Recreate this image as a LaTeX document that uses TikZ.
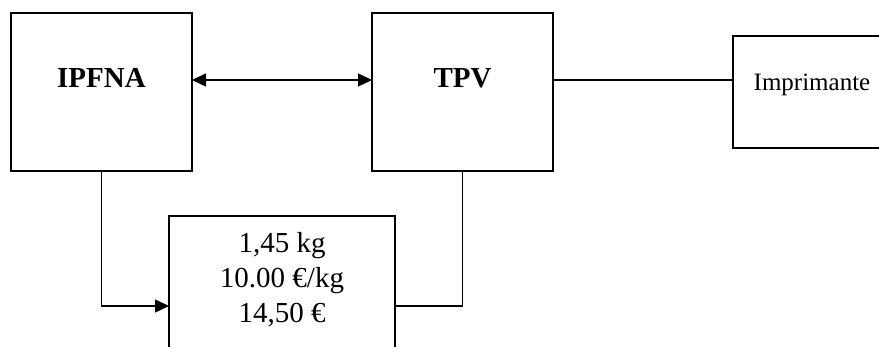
\documentclass[tikz,border=0pt]{standalone}
\usepackage{fontspec}
\setmainfont{Liberation Serif}
\usetikzlibrary{arrows.meta}
\begin{document}
\begin{tikzpicture}[x=1pt,y=-1pt,
  box/.style={draw,line width=1.6pt,inner sep=0pt,outer sep=0pt,rectangle},
  lbl/.style={inner sep=0pt,anchor=base},
  conn/.style={line width=1.5pt},
  tip/.style={-{Triangle[length=14pt,width=13pt]}}]
\useasboundingbox (0,0) rectangle (879,347);
\clip (0,0) rectangle (879,347);
\node[box,minimum width=181pt,minimum height=158pt] (ipfna) at (101.5,92) {};
\node[box,minimum width=181pt,minimum height=158pt] (tpv) at (462.5,92) {};
\node[box,minimum width=160pt,minimum height=112pt] (imp) at (813,92) {};
\node[box,minimum width=226pt,minimum height=160pt] (scale) at (282,296) {};
\node[lbl,font=\fontsize{29}{34}\selectfont\bfseries] (tipfna) at (101.5,88) {IPFNA};
\node[lbl,font=\fontsize{29}{34}\selectfont\bfseries] (ttpv) at (462.5,88) {TPV};
\node[lbl,font=\fontsize{25}{30}\selectfont] (timp) at (812,91) {Imprimante};
\node[lbl,font=\fontsize{29}{34}\selectfont] (t1) at (282,253) {1,45 kg};
\node[lbl,font=\fontsize{29}{34}\selectfont] (t2) at (282,288) {10.00 €/kg};
\node[lbl,font=\fontsize{29}{34}\selectfont] (t3) at (282,323) {14,50 €};
\coordinate (ya) at (0,80);
\coordinate (yb) at (0,306);
\draw[conn,{Triangle[length=14pt,width=13pt]}-{Triangle[length=14pt,width=13pt]}] (ipfna.east |- ya) -- (tpv.west |- ya);
\draw[conn] (tpv.east |- ya) -- (imp.west |- ya);
\draw[conn,tip] (ipfna.south) |- (scale.west |- yb);
\draw[conn] (tpv.south) |- (scale.east |- yb);
\end{tikzpicture}
\end{document}
